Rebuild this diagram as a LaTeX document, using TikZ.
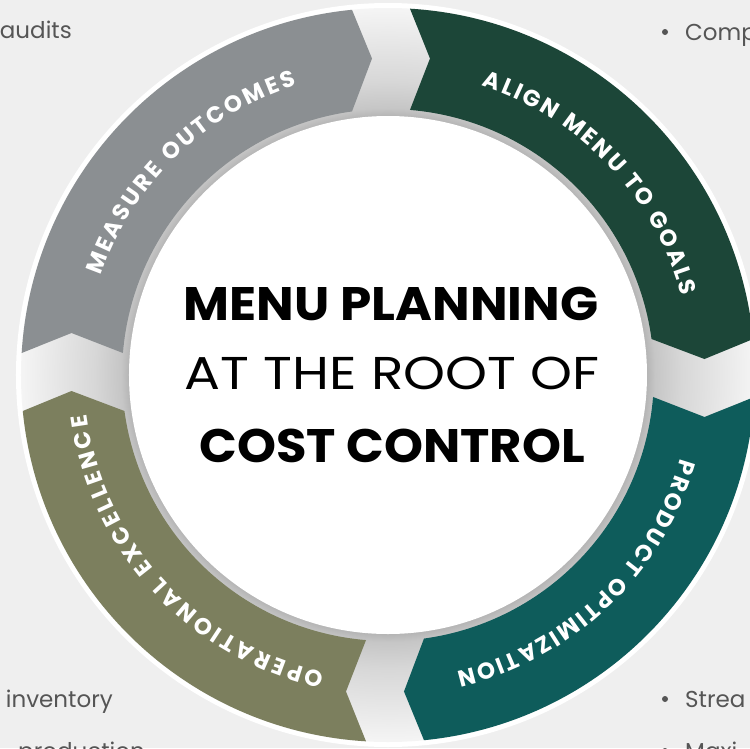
\documentclass[tikz,border=0pt]{standalone}
\usepackage{fontspec}
\setmainfont{Poppins}
\usetikzlibrary{decorations.text}
\definecolor{bgc}{HTML}{EFEFEF}
\definecolor{segGray}{HTML}{8B8F92}
\definecolor{segGreen}{HTML}{1C4638}
\definecolor{segTeal}{HTML}{0E5C5B}
\definecolor{segOlive}{HTML}{7C7F5E}
\definecolor{sideText}{HTML}{555555}
\definecolor{ringIn}{HTML}{B4B4B4}
\definecolor{gapIn}{HTML}{C6C6C6}
\pgfdeclareradialshading{ringshade}{\pgfpoint{0bp}{0bp}}{color(0bp)=(ringIn); color(17.6bp)=(ringIn); color(18.2bp)=(gapIn); color(20bp)=(gapIn!70!white); color(25bp)=(white!96!black); color(50bp)=(white!96!black)}
\newcommand\ringseg[2]{%
  \fill[#2] ({#1-3.437}:367pt) arc[start angle={#1-3.437}, end angle={#1-90+5.630}, radius=367pt]
    -- ({#1-90+2.894}:316.9pt) -- ({#1-90+7.779}:266pt)
    arc[start angle={#1-90+7.779}, end angle={#1-4.744}, radius=266pt]
    -- ({#1-7.559}:319.3pt) -- cycle;}
\newcommand\labtext{\bfseries\fontsize{23}{23}\selectfont}
\tikzset{
  seglabel/.style={decorate, decoration={text along path, text align=fit to path, text color=white, text={|\labtext|#1}}},
  sidetxt/.style={font=\fontsize{23}{26}\selectfont, text=sideText, inner sep=0pt},
  bulletdot/.style={circle, fill=sideText, inner sep=0pt, minimum size=6pt},
  bigbold/.style={font=\bfseries\fontsize{47}{50}\selectfont, inner sep=0pt, text=black},
  bigreg/.style={font=\fontsize{46}{50}\selectfont, inner sep=0pt, text=black}
}
\begin{document}
\begin{tikzpicture}[x=1pt,y=1pt]
\useasboundingbox (-388,-373) rectangle (362,375);
\clip (-388,-373) rectangle (362,375);
\fill[bgc] (-388,-373) rectangle (362,375);
\fill[white] (0,0) circle[radius=372pt];
\shade[shading=ringshade] (0,0) circle[radius=367pt];
\ringseg{180}{segGray}
\ringseg{90}{segGreen}
\ringseg{0}{segTeal}
\ringseg{-90}{segOlive}
\fill[white] (0,0) circle[radius=259pt];
\path[seglabel={MEASURE OUTCOMES}] (161:304pt) arc[start angle=161, end angle=107.5, radius=304pt];
\path[seglabel={ALIGN MENU TO GOALS}] (72:304pt) arc[start angle=72, end angle=15, radius=304pt];
\path[seglabel={PRODUCT OPTIMIZATION}] (-16:304pt) arc[start angle=-16, end angle=-77, radius=304pt];
\path[seglabel={OPERATIONAL EXCELLENCE}] (258:304pt) arc[start angle=258, end angle=187.5, radius=304pt];
\node[bigbold, anchor=base] (t1) at (3,55) {\scalebox{1.065}[1]{MENU PLANNING}};
\node[bigreg, anchor=base] (t2) at (4,-14) {\scalebox{1.16}[1]{AT THE ROOT OF}};
\node[bigbold, anchor=base] (t3) at (4,-87) {\scalebox{1.055}[1]{COST CONTROL}};
\node[sidetxt, anchor=base east] (s1) at (-316,337) {audits};
\node[bulletdot] (b2) at (277,343) {};
\node[sidetxt, anchor=base west] (s2) at (297,335) {Comp};
\node[sidetxt, anchor=base east] (s3) at (-275,-332) {inventory};
\node[sidetxt, anchor=base east] (s4) at (-243,-384) {production};
\node[bulletdot] (b5) at (277,-324) {};
\node[sidetxt, anchor=base west] (s5) at (297,-332) {Strea};
\node[bulletdot] (b6) at (277,-376) {};
\node[sidetxt, anchor=base west] (s6) at (297,-384) {Maxi};
\end{tikzpicture}
\end{document}
